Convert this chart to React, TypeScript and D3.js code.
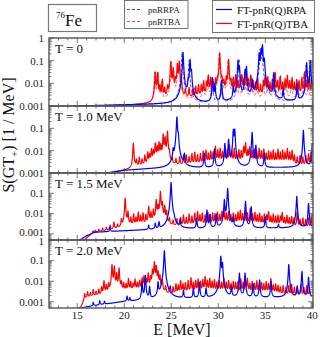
import React from "react";
import * as d3 from "d3";

// ---------------- data ----------------
const panelTitles = ["T = 0", "T = 1.0 MeV", "T = 1.5 MeV", "T = 2.0 MeV"];
const xTickValues = [15, 20, 25, 30, 35, 40];
const yMinValues = [0.001, 0.001, 0.0005, 0.0005];
const yTickLabels = [
  [1, 0.1, 0.01, 0.001],
  [0.1, 0.01, 0.001],
  [0.1, 0.01, 0.001],
  [1, 0.1, 0.01, 0.001],
];
const legendDashed = ["pnRRPA", "pnRTBA"];
const legendSolid = ["FT-pnR(Q)RPA", "FT-pnR(Q)TBA"];

// peaks: [energy MeV, peak height 1/MeV] ; backgrounds: [energy, value]
const rpaBgT0 = [[12, 0.0006], [15, 0.001], [20, 0.0011], [25, 0.0012], [30, 0.0013], [35, 0.0014], [40, 0.0015]];
const rpaT0 = [[26.25, 0.23], [26.8, 0.01], [27.0, 0.11], [27.15, 0.03], [29.4, 0.016], [29.65, 0.008], [30.35, 0.012], [31.6, 0.005], [32.1, 0.1], [32.25, 0.05], [32.85, 0.035], [33.0, 0.05], [33.6, 0.012], [34.35, 0.2], [34.55, 0.3], [34.7, 0.48], [34.9, 0.1], [35.9, 0.027], [36.9, 0.004], [38.4, 0.008], [39.4, 0.08], [39.8, 0.1]];
const tbaBgT0 = [[12, 0.0006], [15, 0.00095], [20, 0.00105], [23, 0.0012], [25, 0.0016], [26.5, 0.0019], [28, 0.0021], [30, 0.0022], [35, 0.0022], [40, 0.002]];
const tbaT0 = [[23.3, 0.03], [23.55, 0.028], [23.8, 0.006], [24.05, 0.013], [24.3, 0.004], [24.6, 0.005], [24.95, 0.085], [25.2, 0.045], [25.45, 0.012], [25.65, 0.07], [25.85, 0.09], [26.1, 0.008], [26.5, 0.003], [26.9, 0.004], [27.3, 0.003], [27.6, 0.005], [27.9, 0.006], [28.2, 0.006], [28.45, 0.01], [28.75, 0.009], [28.95, 0.02], [29.2, 0.015], [29.45, 0.008], [29.7, 0.012], [29.9, 0.01], [30.15, 0.22], [30.4, 0.012], [30.6, 0.009], [30.85, 0.015], [31.1, 0.11], [31.35, 0.01], [31.6, 0.014], [31.85, 0.02], [32.1, 0.01], [32.35, 0.012], [32.5, 0.02], [32.7, 0.01], [32.95, 0.038], [33.2, 0.012], [33.45, 0.02], [33.7, 0.01], [33.95, 0.008], [34.2, 0.012], [34.5, 0.006], [34.8, 0.01], [35.0, 0.02], [35.25, 0.015], [35.5, 0.008], [35.75, 0.012], [36.05, 0.028], [36.3, 0.01], [36.6, 0.018], [36.85, 0.008], [37.1, 0.012], [37.35, 0.02], [37.6, 0.01], [37.85, 0.015], [38.1, 0.008], [38.35, 0.012], [38.6, 0.01], [38.9, 0.015], [39.2, 0.03], [39.45, 0.01], [39.7, 0.015], [39.95, 0.012]];
const rrpaDashedT0 = [[26.15, 0.24], [26.9, 0.1], [29.35, 0.018], [30.3, 0.01], [32.2, 0.12], [32.9, 0.04], [33.55, 0.01], [34.45, 0.3], [34.65, 0.4], [35.85, 0.02], [38.35, 0.007], [39.35, 0.07], [39.75, 0.09]];
const rtbaDashedT0 = [[23.25, 0.028], [23.6, 0.03], [24.0, 0.01], [25.0, 0.09], [25.25, 0.04], [25.7, 0.06], [25.9, 0.08], [27.5, 0.004], [28.4, 0.008], [28.9, 0.018], [29.3, 0.012], [30.1, 0.2], [30.5, 0.01], [31.05, 0.1], [31.5, 0.012], [32.0, 0.015], [32.6, 0.02], [33.0, 0.03], [33.5, 0.018], [34.1, 0.01], [34.8, 0.012], [35.3, 0.018], [36.0, 0.025], [36.5, 0.015], [37.2, 0.015], [37.8, 0.012], [38.5, 0.01], [39.1, 0.025], [39.6, 0.012]];

const rpaBgT1 = [[12, 0.0004], [18.3, 0.001], [20, 0.0013], [22.5, 0.0015], [25, 0.0016], [30, 0.0017], [35, 0.0017], [40, 0.0018]];
const rpaT1 = [[25.2, 0.008], [25.6, 0.32], [25.75, 0.04], [26.4, 0.005], [28.5, 0.006], [29.6, 0.01], [30.7, 0.019], [31.1, 0.03], [31.6, 0.08], [31.75, 0.085], [33.6, 0.064], [34.0, 0.015], [34.9, 0.006], [39.05, 0.08], [40.0, 0.02]];
const tbaBgT1 = [[12, 0.0004], [18.3, 0.001], [20, 0.0013], [21, 0.0016], [22, 0.002], [23, 0.0025], [24, 0.003], [25, 0.0021], [26, 0.0021], [28, 0.0022], [35, 0.0022], [38, 0.002], [40, 0.0019]];
const tbaT1 = [[20.97, 0.02], [21.3, 0.002], [21.6, 0.003], [21.9, 0.002], [22.2, 0.004], [22.5, 0.006], [22.7, 0.004], [22.9, 0.009], [23.1, 0.007], [23.3, 0.018], [23.5, 0.012], [23.7, 0.02], [23.9, 0.015], [24.15, 0.05], [24.35, 0.035], [24.6, 0.07], [24.8, 0.006], [25.1, 0.002], [25.5, 0.002], [25.9, 0.003], [26.3, 0.004], [26.6, 0.004], [26.9, 0.003], [27.2, 0.005], [27.5, 0.006], [27.8, 0.004], [28.1, 0.005], [28.4, 0.007], [28.7, 0.008], [28.95, 0.005], [29.2, 0.007], [29.45, 0.006], [29.7, 0.013], [29.95, 0.008], [30.2, 0.01], [30.45, 0.006], [30.7, 0.012], [30.95, 0.008], [31.2, 0.015], [31.45, 0.007], [31.7, 0.01], [31.95, 0.006], [32.2, 0.008], [32.45, 0.007], [32.7, 0.012], [32.9, 0.02], [33.15, 0.008], [33.35, 0.012], [33.6, 0.007], [33.85, 0.009], [34.1, 0.006], [34.35, 0.01], [34.6, 0.007], [34.85, 0.009], [35.1, 0.005], [35.35, 0.007], [35.6, 0.006], [35.85, 0.008], [36.1, 0.005], [36.35, 0.009], [36.6, 0.006], [36.85, 0.008], [37.1, 0.006], [37.35, 0.01], [37.6, 0.006], [37.85, 0.008], [38.1, 0.004], [38.4, 0.003], [38.7, 0.004], [39.0, 0.003], [39.3, 0.004], [39.6, 0.005], [39.85, 0.006]];

const rpaBgT15 = [[12, 0.0002], [15.3, 0.0005], [16, 0.0008], [17, 0.0012], [20, 0.0014], [25, 0.0017], [30, 0.0018], [35, 0.0019], [40, 0.002]];
const rpaT15 = [[16.7, 0.0003], [18.5, 0.0008], [22.6, 0.001], [23.3, 0.0015], [23.7, 0.002], [24.98, 0.34], [25.3, 0.002], [25.94, 0.003], [27.7, 0.004], [28.8, 0.013], [29.1, 0.007], [29.8, 0.007], [30.65, 0.045], [31.0, 0.17], [31.6, 0.004], [32.9, 0.038], [33.5, 0.02], [35.0, 0.005], [36.4, 0.001], [38.35, 0.068], [39.6, 0.03]];
const tbaBgT15 = [[12, 0.0002], [15.8, 0.0005], [16.5, 0.001], [17, 0.0012], [18, 0.0014], [19, 0.0017], [20, 0.002], [22, 0.0023], [23, 0.0028], [24, 0.0033], [25, 0.0024], [26, 0.0022], [30, 0.0022], [35, 0.002], [40, 0.0018]];
const tbaT15 = [[16.9, 0.0003], [17.3, 0.0004], [17.7, 0.0005], [18.1, 0.0006], [18.5, 0.001], [18.9, 0.002], [19.3, 0.001], [19.7, 0.003], [20.1, 0.056], [20.4, 0.01], [20.7, 0.004], [21.0, 0.007], [21.25, 0.004], [21.5, 0.009], [21.75, 0.005], [22.0, 0.008], [22.3, 0.006], [22.6, 0.02], [22.85, 0.008], [23.1, 0.012], [23.4, 0.045], [23.6, 0.02], [23.85, 0.12], [24.05, 0.03], [24.3, 0.02], [24.5, 0.01], [24.8, 0.003], [25.2, 0.002], [25.6, 0.003], [26.0, 0.004], [26.3, 0.006], [26.6, 0.004], [26.9, 0.007], [27.2, 0.005], [27.5, 0.008], [27.8, 0.01], [28.05, 0.006], [28.3, 0.008], [28.6, 0.006], [28.9, 0.009], [29.15, 0.006], [29.4, 0.008], [29.65, 0.007], [29.9, 0.009], [30.15, 0.006], [30.4, 0.01], [30.6, 0.015], [30.85, 0.008], [31.1, 0.01], [31.35, 0.006], [31.6, 0.008], [31.85, 0.006], [32.1, 0.009], [32.35, 0.012], [32.6, 0.007], [32.85, 0.01], [33.1, 0.008], [33.4, 0.015], [33.65, 0.007], [33.9, 0.009], [34.15, 0.006], [34.4, 0.008], [34.65, 0.005], [34.9, 0.007], [35.15, 0.006], [35.35, 0.01], [35.6, 0.005], [35.85, 0.007], [36.1, 0.005], [36.35, 0.006], [36.6, 0.005], [36.8, 0.009], [37.05, 0.004], [37.3, 0.006], [37.55, 0.004], [37.8, 0.005], [38.05, 0.004], [38.4, 0.01], [38.7, 0.003], [39.0, 0.004], [39.3, 0.003], [39.6, 0.004], [39.9, 0.005]];

const rpaBgT2 = [[12, 0.0001], [15.5, 0.0005], [17.4, 0.0007], [20, 0.001], [22, 0.0011], [25, 0.0014], [30, 0.0015], [35, 0.0016], [40, 0.0016]];
const rpaT2 = [[16.7, 0.0003], [17.4, 0.0004], [17.9, 0.0003], [20.3, 0.0008], [20.6, 0.0005], [21.9, 0.008], [22.25, 0.018], [22.7, 0.004], [23.6, 0.007], [24.0, 0.002], [24.27, 0.3], [24.9, 0.003], [26.3, 0.002], [27.35, 0.003], [28.0, 0.007], [28.7, 0.003], [30.27, 0.16], [30.45, 0.07], [31.4, 0.004], [32.25, 0.023], [32.85, 0.023], [33.7, 0.006], [34.4, 0.01], [35.6, 0.008], [37.5, 0.063], [38.4, 0.004], [38.9, 0.028], [39.6, 0.014]];
const tbaBgT2 = [[12, 0.0001], [15.4, 0.0005], [15.8, 0.0014], [16.5, 0.0017], [17.5, 0.0019], [18.5, 0.0022], [20, 0.0028], [22, 0.0033], [23.5, 0.0038], [24.5, 0.0023], [25, 0.0021], [30, 0.0024], [35, 0.0021], [38, 0.0019], [40, 0.0018]];
const tbaT2 = [[15.8, 0.001], [16.1, 0.0015], [16.4, 0.001], [16.7, 0.002], [17.0, 0.0012], [17.3, 0.002], [17.6, 0.003], [17.85, 0.008], [18.1, 0.004], [18.35, 0.005], [18.7, 0.06], [18.95, 0.05], [19.2, 0.02], [19.45, 0.04], [19.7, 0.006], [19.95, 0.005], [20.2, 0.004], [20.45, 0.01], [20.7, 0.006], [20.95, 0.004], [21.15, 0.009], [21.4, 0.005], [21.65, 0.007], [21.9, 0.01], [22.1, 0.014], [22.35, 0.008], [22.55, 0.02], [22.8, 0.012], [23.0, 0.03], [23.2, 0.08], [23.4, 0.05], [23.6, 0.025], [23.8, 0.015], [24.05, 0.008], [24.4, 0.003], [24.8, 0.002], [25.2, 0.003], [25.5, 0.005], [25.75, 0.004], [26.0, 0.008], [26.25, 0.005], [26.5, 0.006], [26.8, 0.008], [27.1, 0.012], [27.35, 0.006], [27.6, 0.008], [27.85, 0.01], [28.1, 0.007], [28.35, 0.009], [28.6, 0.014], [28.85, 0.008], [29.1, 0.011], [29.35, 0.007], [29.6, 0.009], [29.85, 0.006], [30.1, 0.008], [30.35, 0.006], [30.6, 0.011], [30.85, 0.006], [31.1, 0.008], [31.35, 0.005], [31.6, 0.007], [31.85, 0.006], [32.1, 0.007], [32.4, 0.01], [32.65, 0.006], [32.9, 0.008], [33.1, 0.011], [33.35, 0.005], [33.6, 0.007], [33.85, 0.005], [34.1, 0.008], [34.35, 0.005], [34.6, 0.006], [34.85, 0.005], [35.1, 0.007], [35.35, 0.005], [35.6, 0.011], [35.85, 0.004], [36.1, 0.005], [36.35, 0.004], [36.6, 0.003], [36.9, 0.004], [37.2, 0.003], [37.5, 0.004], [37.8, 0.005], [38.1, 0.003], [38.4, 0.003], [38.8, 0.005], [39.1, 0.003], [39.4, 0.004], [39.7, 0.003]];

// ---------------- layout ----------------
const W = 320;
const H = 337;
const E_MIN = 12;
const E_MAX = 40;
const HALF_WIDTH = 0.045; // Lorentzian half width (MeV)
const panelTop = [38, 106, 173, 240];
const panelBottom = [106, 173, 240, 308];
const FRAME_L = 49;
const FRAME_R = 313;
const FONT = "'Liberation Serif', 'Times New Roman', serif";
const BLUE = "#0000ff";
const RED = "#ff0000";
const FRAME = "#555";

const x = d3.scaleLinear().domain([E_MIN, E_MAX]).range([49, 312.3]);

type Pair = number[];

function spectrum(peaks: Pair[], bg: Pair[]): Pair[] {
  const bgLog = d3
    .scaleLinear()
    .domain(bg.map((d) => d[0]))
    .range(bg.map((d) => Math.log10(d[1])))
    .clamp(true);
  const es = d3.range(E_MIN, E_MAX + 1e-9, 0.01).concat(peaks.map((p) => p[0]));
  es.sort((a, b) => a - b);
  const g2 = HALF_WIDTH * HALF_WIDTH;
  return es.map((e) => [
    e,
    Math.pow(10, bgLog(e)) + d3.sum(peaks, (p) => (p[1] * g2) / ((e - p[0]) * (e - p[0]) + g2)),
  ]);
}

const panelSeries = [
  { dashed: [spectrum(rrpaDashedT0, rpaBgT0), spectrum(rtbaDashedT0, tbaBgT0)], rpa: spectrum(rpaT0, rpaBgT0), tba: spectrum(tbaT0, tbaBgT0) },
  { dashed: [], rpa: spectrum(rpaT1, rpaBgT1), tba: spectrum(tbaT1, tbaBgT1) },
  { dashed: [], rpa: spectrum(rpaT15, rpaBgT15), tba: spectrum(tbaT15, tbaBgT15) },
  { dashed: [], rpa: spectrum(rpaT2, rpaBgT2), tba: spectrum(tbaT2, tbaBgT2) },
];

function fmt(v: number) {
  if (v >= 1) return "1";
  return String(v);
}

function Panel({ i }: { i: number }) {
  const top = panelTop[i];
  const bottom = panelBottom[i];
  const y = d3.scaleLog().domain([yMinValues[i], 1]).range([bottom, top]);
  const line = d3
    .line<Pair>()
    .x((d) => x(d[0]))
    .y((d) => y(Math.max(d[1], 1e-7)));
  const s = panelSeries[i];
  const clipId = `clip${i}`;
  const yTicks: { v: number; major: boolean }[] = [];
  for (let dec = -4; dec <= 0; dec++) {
    for (let m = 1; m <= 9; m++) {
      const v = m * Math.pow(10, dec);
      if (v >= yMinValues[i] * 0.999 && v <= 1.0001) yTicks.push({ v, major: m === 1 });
    }
  }
  const xTicks: { v: number; major: boolean }[] = d3.range(13, 40.01, 1).map((v) => ({ v, major: v % 5 === 0 }));
  return (
    <g>
      <clipPath id={clipId}>
        <rect x={FRAME_L} y={top} width={FRAME_R - FRAME_L} height={bottom - top} />
      </clipPath>
      <g clipPath={`url(#${clipId})`} fill="none">
        {s.dashed.map((d, k) => (
          <path key={k} d={line(d) || ""} stroke={k === 0 ? "#3b3bff" : "#ff3b3b"} strokeWidth={1} strokeDasharray="3,2" />
        ))}
        <path d={line(s.tba) || ""} stroke={RED} strokeWidth={1.2} strokeLinejoin="round" />
        <path d={line(s.rpa) || ""} stroke={BLUE} strokeWidth={1.2} strokeLinejoin="round" />
      </g>
      {yTicks.map((t, k) => (
        <g key={"y" + k} stroke={FRAME} strokeWidth={0.8}>
          <line x1={FRAME_L} x2={FRAME_L + (t.major ? 5 : 2.5)} y1={y(t.v)} y2={y(t.v)} />
          <line x1={FRAME_R} x2={FRAME_R - (t.major ? 5 : 2.5)} y1={y(t.v)} y2={y(t.v)} />
        </g>
      ))}
      {xTicks.map((t, k) => (
        <g key={"x" + k} stroke={FRAME} strokeWidth={0.8}>
          <line x1={x(t.v)} x2={x(t.v)} y1={bottom} y2={bottom - (t.major ? 5 : 2.5)} />
          <line x1={x(t.v)} x2={x(t.v)} y1={top} y2={top + (t.major ? 5 : 2.5)} />
        </g>
      ))}
      <rect x={FRAME_L} y={top} width={FRAME_R - FRAME_L} height={bottom - top} fill="none" stroke={FRAME} strokeWidth={1.4} />
      {yTickLabels[i].map((v) => (
        <text key={v} x={44} y={y(v) + (i === 3 && v === 1 ? 1.5 : 0) - (i === 2 && v === 0.001 ? 1.5 : 0)} dy="0.35em" textAnchor="end" fontSize={11} fontFamily={FONT} fill="#222">
          {fmt(v)}
        </text>
      ))}
      <text x={55} y={top + 15} fontSize={13} fontFamily={FONT} fill="#111">
        {panelTitles[i]}
      </text>
    </g>
  );
}

export default function App() {
  return (
    <svg width={W} height={H} style={{ position: "absolute", left: 0, top: 0, background: "#fff" }}>
      <rect x={0} y={0} width={W} height={H} fill="#fff" />
      {panelTitles.map((_, i) => (
        <Panel key={i} i={i} />
      ))}
      {xTickValues.map((v) => (
        <text key={v} x={x(v)} y={319} textAnchor="middle" fontSize={11} fontFamily={FONT} fill="#222">
          {v}
        </text>
      ))}
      <text x={182} y={335} textAnchor="middle" fontSize={16} fontFamily={FONT} fill="#111">
        E [MeV]
      </text>
      <text transform="translate(14,135) rotate(-90)" textAnchor="middle" fontSize={16} fontFamily={FONT} fill="#111">
        S(GT<tspan fontSize={11} dy={4}>+</tspan>
        <tspan dy={-4}>) [1 / MeV]</tspan>
      </text>
      <rect x={48.5} y={4.5} width={48} height={27} fill="none" stroke="#777" strokeWidth={1.2} />
      <text x={56} y={26} fontFamily={FONT} fill="#111">
        <tspan fontSize={9} dy={-8}>76</tspan>
        <tspan fontSize={17} dy={8}>Fe</tspan>
      </text>
      <rect x={124.5} y={0.5} width={63.5} height={28} fill="none" stroke="#777" strokeWidth={1} />
      {legendDashed.map((t, k) => (
        <g key={t}>
          <line x1={127} x2={141} y1={9.5 + k * 12} y2={9.5 + k * 12} stroke={k === 0 ? "#3b3bff" : "#ff3b3b"} strokeWidth={1} strokeDasharray="3,2" />
          <text x={148} y={12.5 + k * 12} fontSize={9} fontFamily={FONT} fill="#222">
            {t}
          </text>
        </g>
      ))}
      <rect x={212.5} y={0.5} width={102} height={32} fill="none" stroke="#777" strokeWidth={1} />
      {legendSolid.map((t, k) => (
        <g key={t}>
          <line x1={216} x2={232} y1={9.5 + k * 14} y2={9.5 + k * 14} stroke={k === 0 ? BLUE : RED} strokeWidth={1.2} />
          <text x={237} y={13.5 + k * 14} fontSize={11} fontFamily={FONT} fill="#111">
            {t}
          </text>
        </g>
      ))}
    </svg>
  );
}
